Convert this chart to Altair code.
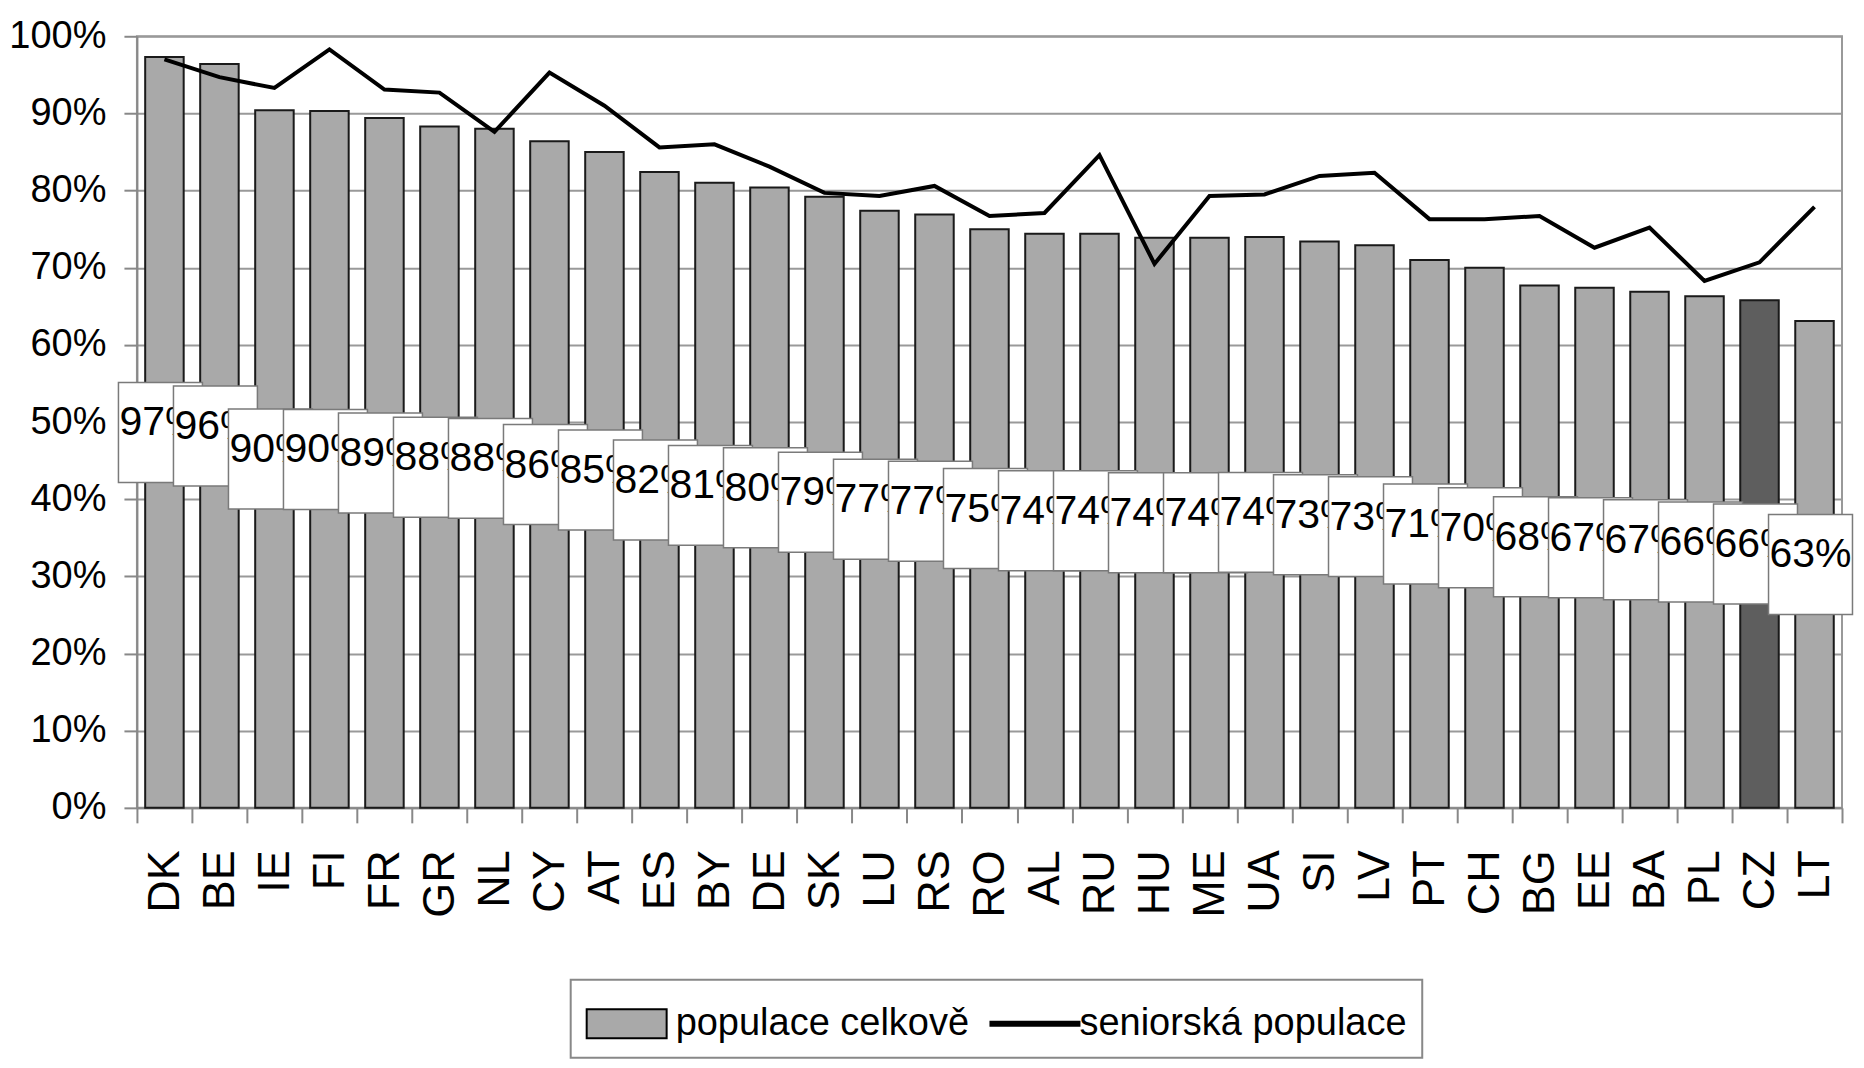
import altair as alt
import pandas as pd

countries = ["DK", "BE", "IE", "FI", "FR", "GR", "NL", "CY", "AT", "ES", "BY", "DE",
             "SK", "LU", "RS", "RO", "AL", "RU", "HU", "ME", "UA", "SI", "LV", "PT",
             "CH", "BG", "EE", "BA", "PL", "CZ", "LT"]
total = [97.3, 96.4, 90.4, 90.3, 89.4, 88.3, 88.0, 86.4, 85.0, 82.4, 81.0, 80.4,
         79.2, 77.4, 76.9, 75.0, 74.4, 74.4, 73.9, 73.9, 74.0, 73.4, 72.9, 71.0,
         70.0, 67.7, 67.4, 66.9, 66.3, 65.8, 63.1]
senior = [97.0, 94.7, 93.3, 98.3, 93.1, 92.7, 87.6, 95.3, 91.0, 85.6, 86.0, 83.1,
          79.7, 79.3, 80.6, 76.7, 77.1, 84.6, 70.5, 79.3, 79.5, 81.9, 82.3, 76.3,
          76.3, 76.7, 72.6, 75.2, 68.3, 70.7, 77.9]
highlight = "CZ"
series_names = ["populace celkově", "seniorská populace"]
y_ticks = [0, 10, 20, 30, 40, 50, 60, 70, 80, 90, 100]

REG = "'Liberation Sans', Arial, sans-serif"

df = pd.DataFrame({"country": countries, "total": total, "senior": senior})

x_enc = alt.X(
    "country:N", sort=countries, title=None,
    scale=alt.Scale(paddingInner=0, paddingOuter=0),
    axis=alt.Axis(labelAngle=-90, tickBand="extent", grid=False, labelFont=REG,
                  labelFontSize=45, labelColor="black", labelPadding=27, tickSize=15,
                  labelOverlap=False),
)
y_scale = alt.Scale(domain=[0, 100], nice=False)
y_axis = alt.Axis(values=y_ticks, labelExpr="datum.value + '%'", labelFont=REG,
                  labelFontSize=38, labelColor="black", labelPadding=18, tickSize=13,
                  grid=True)

bars = alt.Chart(df).mark_bar(
    width=alt.RelativeBandSize(band=0.7), stroke="#1a1a1a", strokeWidth=2
).encode(
    x=x_enc,
    y=alt.Y("total:Q", scale=y_scale, axis=y_axis, title=None),
    fill=alt.condition(alt.datum.country == highlight, alt.value("#5e5e5e"), alt.value("#a9a9a9")),
)

line = alt.Chart(df).mark_line(color="black", strokeWidth=4).encode(
    x=x_enc,
    y=alt.Y("senior:Q", title=None),
)

BOX_PATH = "M-0.84,-1L0.84,-1L0.84,1L-0.84,1Z"
base = alt.Chart(df).transform_calculate(
    half="datum.total / 2",
    label="format(datum.total, '.0f') + '%'",
)
label_layers = []
for c in countries:
    sub = base.transform_filter(alt.datum.country == c)
    box = sub.mark_point(
        shape=BOX_PATH, size=10000, filled=True, fill="white", stroke="#7a7a7a",
        strokeWidth=1.5, opacity=1, xOffset=-4,
    ).encode(x=x_enc, y=alt.Y("half:Q", title=None))
    txt = sub.mark_text(
        font=REG, fontSize=41, dy=-9, xOffset=-4, color="black",
        align="center", baseline="middle",
    ).encode(x=x_enc, y=alt.Y("half:Q", title=None), text="label:N")
    label_layers += [box, txt]

SWATCH = "M-1,-0.518L1.857,-0.518L1.857,0.518L-1,0.518Z"
LINESYM = "M-1,-0.07L2.18,-0.07L2.18,0.07L-1,0.07Z"
leg = alt.Legend(
    title=None, orient="none", legendX=434, legendY=944, direction="horizontal",
    labelFont=REG, labelFontSize=38, labelColor="black", symbolSize=3136,
    labelOffset=32, columnPadding=17, padding=15, strokeColor="#888",
    symbolStrokeWidth=2, labelLimit=0,
)
leg_df = pd.DataFrame({"series": series_names})
legend_layer = alt.Chart(leg_df).transform_filter("false").mark_point(
    filled=True, opacity=1
).encode(
    shape=alt.Shape("series:N", scale=alt.Scale(domain=series_names, range=[SWATCH, LINESYM]), legend=leg),
    fill=alt.Fill("series:N", scale=alt.Scale(domain=series_names, range=["#a9a9a9", "#000000"]), legend=leg),
    stroke=alt.Stroke("series:N", scale=alt.Scale(domain=series_names, range=["#000000", "#000000"]), legend=leg),
)

chart = alt.layer(bars, line, *label_layers, legend_layer).properties(
    width=1706, height=772,
    padding={"left": 0, "top": 9, "right": 0, "bottom": 0},
).configure_view(
    stroke="#999", strokeWidth=2
).configure_axis(
    domainColor="#888", domainWidth=2, tickColor="#888", tickWidth=2,
    gridColor="#999", gridWidth=2,
).configure_legend(
    strokeWidth=2
)

chart.save("out.html", embed_options={"renderer": "svg", "actions": False})
